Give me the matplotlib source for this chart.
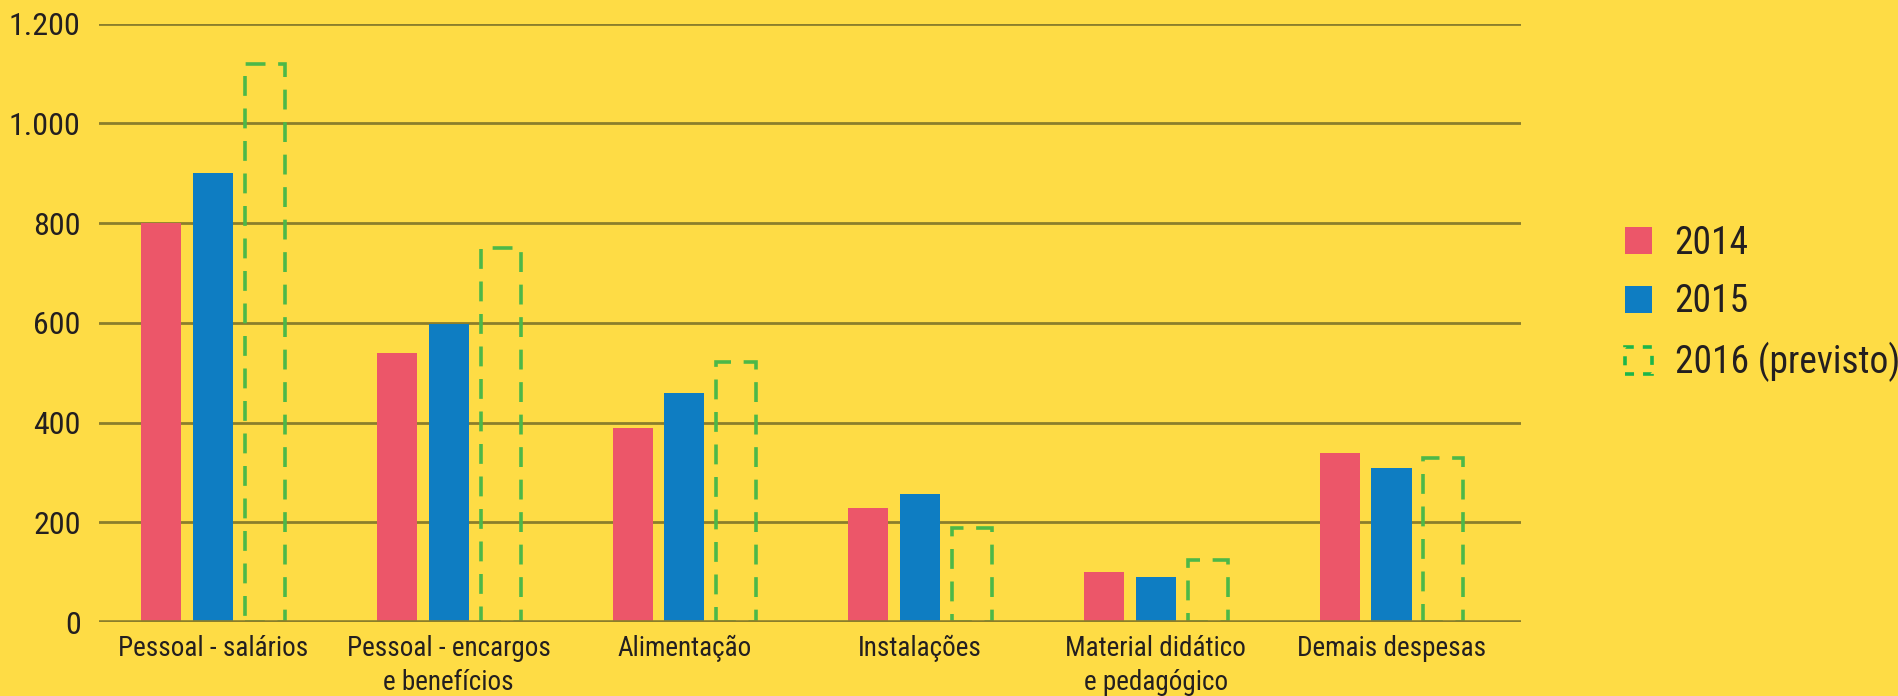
import matplotlib
matplotlib.use("Agg")
import matplotlib.pyplot as plt
import numpy as np
from matplotlib.patches import Patch

plt.rcParams['font.family'] = ['Roboto Condensed', 'DejaVu Sans']

categorias = ["Pessoal - salários", "Pessoal - encargos\ne benefícios", "Alimentação",
              "Instalações", "Material didático\ne pedagógico", "Demais despesas"]
v2014 = [800, 540, 390, 230, 100, 340]
v2015 = [900, 597, 460, 258, 90, 310]
v2016 = [1120, 750, 522, 188, 125, 330]
yticks = [0, 200, 400, 600, 800, 1000, 1200]
ylabels = ["0", "200", "400", "600", "800", "1.000", "1.200"]

bg = "#FEDC45"
pink = "#EC5669"
blue = "#0E7DC2"
green = "#4DB848"
gridc = "#8B7E2B"
txt = "#231F20"

fig = plt.figure(figsize=(18.99, 6.96), dpi=100, facecolor=bg)
ax = fig.add_axes([0.052, 0.106, 0.749, 0.86], facecolor=bg)

x = np.arange(len(categorias))
w = 0.17
off = 0.22
ax.bar(x - off, v2014, w, color=pink, zorder=3)
ax.bar(x, v2015, w, color=blue, zorder=3)
ax.bar(x + off, v2016, w, fill=False, edgecolor=green, linewidth=2.6,
       linestyle=(0, (5.5, 3.5)), zorder=3)

ax.set_ylim(0, 1200)
ax.set_xlim(-0.485, 5.55)
ax.set_yticks(yticks)
ax.set_yticklabels(ylabels, fontsize=23, color=txt)
ax.set_xticks(x)
ax.set_xticklabels(categorias, fontsize=19.5, color=txt, linespacing=1.35, va="top")
ax.tick_params(length=0, axis="y", pad=13)
ax.tick_params(length=0, axis="x", pad=9)
for s in ax.spines.values():
    s.set_visible(False)
ax.yaxis.grid(True, color=gridc, linewidth=2)
ax.set_axisbelow(True)
ax.axhline(0, color=gridc, linewidth=2.6, zorder=4)

handles = [Patch(facecolor=pink, edgecolor="none"),
           Patch(facecolor=blue, edgecolor="none"),
           Patch(facecolor="none", edgecolor="#1DB64A", linewidth=2.6, linestyle=(0, (2.5, 2.5)))]
leg = fig.legend(handles, ["2014", "2015", "2016 (previsto)"], loc="center left",
                 bbox_to_anchor=(0.838, 0.564), frameon=False, fontsize=27,
                 handlelength=0.72, handleheight=0.72, handletextpad=0.6,
                 labelspacing=0.58, labelcolor=txt)

fig.savefig("out.png", dpi=100, facecolor=bg)
